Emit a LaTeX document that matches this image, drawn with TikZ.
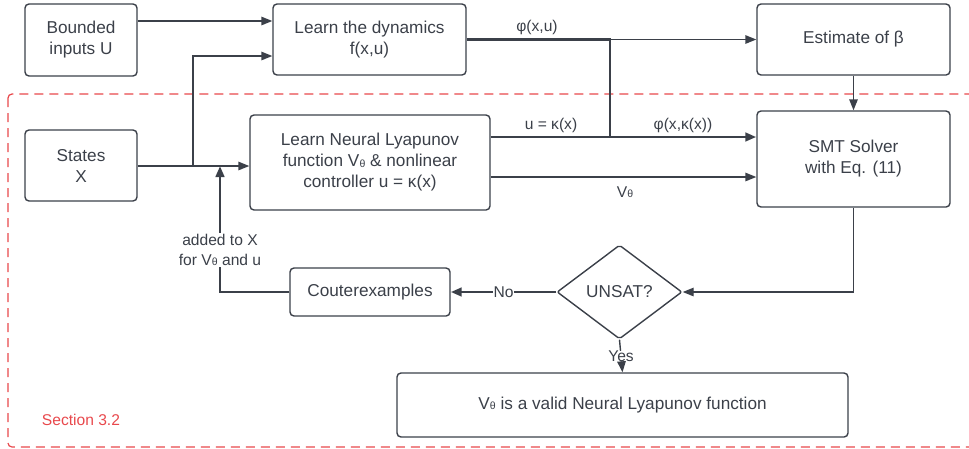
\documentclass[tikz,border=0pt]{standalone}
\usepackage{fontspec}
\setmainfont{Liberation Sans}
\usetikzlibrary{shapes.geometric,arrows.meta}

\definecolor{ink}{HTML}{3B4049}
\definecolor{sect}{HTML}{E8484C}
\newcommand\Vth{V\kern0.2pt\raisebox{-0.4pt}{\fontsize{10.5}{10.5}\selectfont θ}}

\tikzset{
  box/.style={draw=ink, line width=1.4pt, rounded corners=4pt, align=center,
    text=ink, inner sep=0pt, font=\fontsize{17.2}{21}\selectfont},
  arr/.style={draw=ink, line width=1.4pt, -{Triangle[length=11pt,width=8.5pt]}},
  fat/.style={line width=2.8pt},
  lbl/.style={text=ink, inner sep=1pt, align=center, font=\fontsize{15.6}{19.5}\selectfont},
}

\begin{document}
\begin{tikzpicture}[x=1pt, y=-1pt]

  \useasboundingbox (0,0) rectangle (969,448);

  %% section frame
  \draw[sect, line width=1.2pt, dash pattern=on 9pt off 6pt, rounded corners=4pt]
    (8,94) rectangle (990,447);
  \node[lbl, text=sect] (sec) at (81,420) {Section 3.2};

  %% boxes
  \node[box, minimum width=112pt, minimum height=72pt] (bnd) at (81,40) {Bounded\\inputs U};
  \node[box, minimum width=193pt, minimum height=71pt] (dyn) at (369.5,39.5) {Learn the dynamics\\f(x,u)};
  \node[box, minimum width=193pt, minimum height=71pt] (est) at (853.5,39.5) {Estimate of β};
  \node[box, minimum width=112pt, minimum height=71pt] (sts) at (81,165.5) {States\\X};
  \node[box, minimum width=240pt, minimum height=95pt] (lyap) at (370,162.5)
    {Learn Neural Lyapunov\\function \Vth{} \& nonlinear\\controller u = κ(x)};
  \node[box, minimum width=193pt, minimum height=96pt] (smt) at (853.5,159) {SMT Solver\\with Eq. (11)};
  \node[box, diamond, aspect=1.33, rounded corners=2pt, minimum width=125pt, minimum height=94pt]
    (unsat) at (619.5,292) {UNSAT?};
  \node[box, minimum width=160pt, minimum height=48pt] (cex) at (370,292) {Couterexamples};
  \node[box, minimum width=451pt, minimum height=64pt] (valid) at (622.5,405)
    {\Vth{} is a valid Neural Lyapunov function};

  \coordinate (split) at (193,166);
  \coordinate (back) at (220,166);
  \coordinate (tap) at (610,39.5);

  %% inputs
  \draw[arr] (bnd.east |- 0,21) -- (dyn.west |- 0,21);
  \draw[arr] (sts.east |- split) -- (lyap.west |- split);
  \draw[arr] (split) |- (dyn.west |- 0,56);

  %% dynamics -> beta, and phi down to the solver
  \draw[draw=ink, fat, line join=miter] (dyn.east) -- (tap) -- (tap |- 0,137);
  \draw[arr] (tap) -- (est.west);
  \node[lbl] (phi) at (537,27) {φ(x,u)};

  \draw[arr, fat] (lyap.east |- 0,137) -- (smt.west |- 0,137);
  \node[lbl] (ctl) at (551,125) {u = κ(x)};
  \node[lbl] (phik) at (683,125) {φ(x,κ(x))};

  \draw[arr] (lyap.east |- 0,177) -- (smt.west |- 0,177);
  \node[lbl] (vth) at (625,192) {\Vth};

  \draw[arr] (est.south) -- (smt.north);
  \draw[arr] (smt.south) |- (unsat.east);

  %% No / Yes
  \draw[arr, fat] (unsat.west) -- node[lbl, fill=white] (no) {No} (cex.east);
  \draw[arr] (unsat.south) -- node[lbl, fill=white, inner sep=0pt] (yes) {Yes} (valid.north);

  %% counterexamples fed back
  \draw[arr, fat] (cex.west) -| (back);
  \node[lbl, fill=white] (add) at (220,250) {added to X\\for \Vth{} and u};

\end{tikzpicture}
\end{document}
